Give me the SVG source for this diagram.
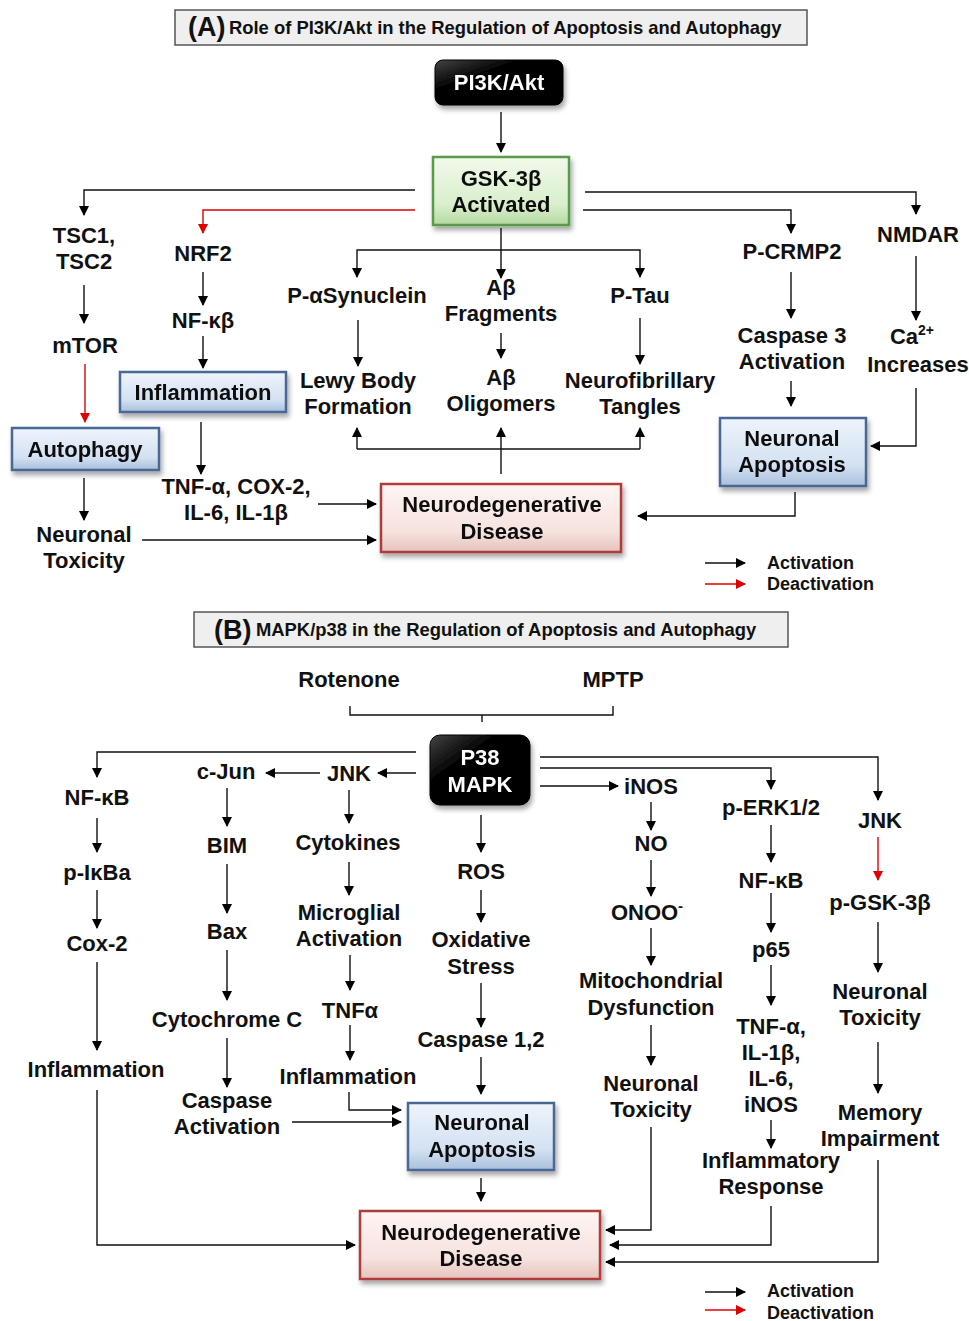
<svg xmlns="http://www.w3.org/2000/svg" width="969" height="1321" viewBox="0 0 969 1321">
<defs>
<marker id="ab" markerWidth="10" markerHeight="10" refX="9" refY="5" orient="auto" markerUnits="userSpaceOnUse"><path d="M0,0 L10,5 L0,10 Z" fill="#000"/></marker>
<marker id="ar" markerWidth="10" markerHeight="10" refX="9" refY="5" orient="auto" markerUnits="userSpaceOnUse"><path d="M0,0 L10,5 L0,10 Z" fill="#e00000"/></marker>
<linearGradient id="gBlue" x1="0" y1="0" x2="0" y2="1"><stop offset="0" stop-color="#eef4fb"/><stop offset="0.7" stop-color="#d3e1f2"/><stop offset="1" stop-color="#a9bfdc"/></linearGradient>
<linearGradient id="gGreen" x1="0" y1="0" x2="0" y2="1"><stop offset="0" stop-color="#f1f9ec"/><stop offset="0.7" stop-color="#d9efcc"/><stop offset="1" stop-color="#b5d9a0"/></linearGradient>
<linearGradient id="gPink" x1="0" y1="0" x2="0" y2="1"><stop offset="0" stop-color="#fdf5f3"/><stop offset="0.7" stop-color="#f6e2de"/><stop offset="1" stop-color="#e5c2bc"/></linearGradient>
<linearGradient id="gBlack" x1="0" y1="0" x2="1" y2="1"><stop offset="0" stop-color="#444"/><stop offset="0.35" stop-color="#000"/><stop offset="1" stop-color="#000"/></linearGradient>
<filter id="sh" x="-10%" y="-10%" width="125%" height="135%"><feDropShadow dx="2" dy="4" stdDeviation="2.5" flood-color="#000" flood-opacity="0.35"/></filter>
</defs>
<style>
text{font-family:"Liberation Sans",Arial,sans-serif;font-weight:bold;fill:#111;text-anchor:middle;font-size:22px}
.w{fill:#fff}
.lg{font-size:18px;text-anchor:start}
.tl{font-size:18.4px;text-anchor:start}
.tb{font-size:27px;text-anchor:start}
.k{fill:none;stroke:#111;stroke-width:1.4}
.ka{fill:none;stroke:#111;stroke-width:1.4;marker-end:url(#ab)}
.ra{fill:none;stroke:#e00000;stroke-width:1.4;marker-end:url(#ar)}
.title{fill:#efefef;stroke:#555;stroke-width:1.5}
.blue{fill:url(#gBlue);stroke:#4a6896;stroke-width:2.5}
.green{fill:url(#gGreen);stroke:#5a9a48;stroke-width:2.5}
.pink{fill:url(#gPink);stroke:#b03a3a;stroke-width:2.5}
.blk{fill:url(#gBlack);stroke:#000}
</style>

<!-- ===== Section A ===== -->
<g id="titleA"><rect class="title" x="175" y="10" width="632" height="35"/><text class="tb" x="188" y="36">(A)</text><text class="tl" x="229" y="34">Role of PI3K/Akt in the Regulation of Apoptosis and Autophagy</text></g>
<g id="pi3k" filter="url(#sh)"><rect class="blk" x="435" y="60" width="128" height="45" rx="8"/><text class="w" x="499" y="90">PI3K/Akt</text></g>
<g id="gsk" filter="url(#sh)"><rect class="green" x="433" y="157" width="136" height="68"/><text x="501" y="186">GSK-3β</text><text x="501" y="212">Activated</text></g>
<g id="tsc"><text x="84" y="243">TSC1,</text><text x="84" y="269">TSC2</text></g>
<g id="mtor"><text x="85" y="353">mTOR</text></g>
<g id="autophagy" filter="url(#sh)"><rect class="blue" x="12" y="428" width="147" height="42"/><text x="85" y="457">Autophagy</text></g>
<g id="ntoxA"><text x="84" y="542">Neuronal</text><text x="84" y="568">Toxicity</text></g>
<g id="nrf2"><text x="203" y="261">NRF2</text></g>
<g id="nfkbA"><text x="203" y="328">NF-κβ</text></g>
<g id="inflA" filter="url(#sh)"><rect class="blue" x="120" y="372" width="166" height="40"/><text x="203" y="400">Inflammation</text></g>
<g id="tnfA"><text x="236" y="494">TNF-α, COX-2,</text><text x="236" y="520">IL-6, IL-1β</text></g>
<g id="syn"><text x="357" y="303">P-αSynuclein</text></g>
<g id="lewy"><text x="358" y="388">Lewy Body</text><text x="358" y="414">Formation</text></g>
<g id="abf"><text x="501" y="295">Aβ</text><text x="501" y="321">Fragments</text></g>
<g id="abo"><text x="501" y="385">Aβ</text><text x="501" y="411">Oligomers</text></g>
<g id="ptau"><text x="640" y="303">P-Tau</text></g>
<g id="nft"><text x="640" y="388">Neurofibrillary</text><text x="640" y="414">Tangles</text></g>
<g id="crmp"><text x="792" y="259">P-CRMP2</text></g>
<g id="casp3"><text x="792" y="343">Caspase 3</text><text x="792" y="369">Activation</text></g>
<g id="napA" filter="url(#sh)"><rect class="blue" x="720" y="418" width="146" height="68"/><text x="792" y="446">Neuronal</text><text x="792" y="472">Apoptosis</text></g>
<g id="nmdar"><text x="918" y="242">NMDAR</text></g>
<g id="ca"><text x="912" y="344">Ca<tspan font-size="14" dy="-9">2+</tspan></text><text x="918" y="372">Increases</text></g>
<g id="ndA" filter="url(#sh)"><rect class="pink" x="381" y="484" width="240" height="68"/><text x="502" y="512">Neurodegenerative</text><text x="502" y="539">Disease</text></g>
<g id="legendA"><line class="ka" x1="705" y1="563" x2="745" y2="563"/><text class="lg" x="767" y="569">Activation</text><line class="ra" x1="705" y1="584" x2="745" y2="584"/><text class="lg" x="767" y="590">Deactivation</text></g>

<g id="connectorsA">
<line class="ka" x1="501" y1="112" x2="501" y2="152"/>
<polyline class="ka" points="415,190 84,190 84,215"/>
<polyline class="ra" points="415,210 203,210 203,233"/>
<line class="ka" x1="84" y1="285" x2="84" y2="323"/>
<line class="ra" x1="85" y1="364" x2="85" y2="422"/>
<line class="ka" x1="84" y1="478" x2="84" y2="520"/>
<line class="ka" x1="203" y1="272" x2="203" y2="305"/>
<line class="ka" x1="203" y1="336" x2="203" y2="368"/>
<line class="ka" x1="201" y1="422" x2="201" y2="474"/>
<line class="ka" x1="318" y1="504" x2="376" y2="504"/>
<line class="ka" x1="142" y1="540" x2="376" y2="540"/>
<line class="ka" x1="501" y1="228" x2="501" y2="278"/>
<polyline class="ka" points="501,250 357,250 357,277"/>
<polyline class="ka" points="501,250 640,250 640,277"/>
<line class="ka" x1="358" y1="320" x2="358" y2="366"/>
<line class="ka" x1="501" y1="333" x2="501" y2="358"/>
<line class="ka" x1="640" y1="318" x2="640" y2="364"/>
<line class="ka" x1="501" y1="474" x2="501" y2="428"/>
<polyline class="k" points="357,449 640,449"/>
<line class="ka" x1="357" y1="449" x2="357" y2="428"/>
<line class="ka" x1="640" y1="449" x2="640" y2="428"/>
<polyline class="ka" points="585,192 916,192 916,214"/>
<polyline class="ka" points="583,210 791,210 791,233"/>
<line class="ka" x1="791" y1="272" x2="791" y2="318"/>
<line class="ka" x1="791" y1="381" x2="791" y2="406"/>
<line class="ka" x1="916" y1="256" x2="916" y2="320"/>
<polyline class="ka" points="916,388 916,446 871,446"/>
<polyline class="ka" points="795,492 795,516 638,516"/>
</g>

<!-- ===== Section B ===== -->
<g id="titleB"><rect class="title" x="194" y="612" width="594" height="35"/><text class="tb" x="214" y="639">(B)</text><text class="tl" x="256" y="636">MAPK/p38 in the Regulation of Apoptosis and Autophagy</text></g>
<g id="rot"><text x="349" y="687">Rotenone</text></g>
<g id="mptp"><text x="613" y="687">MPTP</text></g>
<g id="brace"><path class="k" d="M350,706 L350,715 L613,715 L613,706 M482,715 L482,722"/></g>
<g id="p38" filter="url(#sh)"><rect class="blk" x="430" y="735" width="100" height="70" rx="10"/><text class="w" x="480" y="765">P38</text><text class="w" x="480" y="792">MAPK</text></g>
<g id="nfkbB1"><text x="97" y="805">NF-κB</text></g>
<g id="pikba"><text x="97" y="880">p-IκBa</text></g>
<g id="cox2"><text x="97" y="951">Cox-2</text></g>
<g id="inflB1"><text x="96" y="1077">Inflammation</text></g>
<g id="cjun"><text x="226" y="779">c-Jun</text></g>
<g id="bim"><text x="227" y="853">BIM</text></g>
<g id="bax"><text x="227" y="939">Bax</text></g>
<g id="cytc"><text x="227" y="1027">Cytochrome C</text></g>
<g id="caspact"><text x="227" y="1108">Caspase</text><text x="227" y="1134">Activation</text></g>
<g id="jnk1"><text x="349" y="781">JNK</text></g>
<g id="cyto"><text x="348" y="850">Cytokines</text></g>
<g id="micro"><text x="349" y="920">Microglial</text><text x="349" y="946">Activation</text></g>
<g id="tnfa1"><text x="350" y="1018">TNFα</text></g>
<g id="inflB2"><text x="348" y="1084">Inflammation</text></g>
<g id="ros"><text x="481" y="879">ROS</text></g>
<g id="ox"><text x="481" y="947">Oxidative</text><text x="481" y="974">Stress</text></g>
<g id="casp12"><text x="481" y="1047">Caspase 1,2</text></g>
<g id="napB" filter="url(#sh)"><rect class="blue" x="408" y="1103" width="146" height="67"/><text x="482" y="1130">Neuronal</text><text x="482" y="1157">Apoptosis</text></g>
<g id="ndB" filter="url(#sh)"><rect class="pink" x="360" y="1211" width="240" height="68"/><text x="481" y="1240">Neurodegenerative</text><text x="481" y="1266">Disease</text></g>
<g id="inos"><text x="651" y="794">iNOS</text></g>
<g id="no"><text x="651" y="851">NO</text></g>
<g id="onoo"><text x="647" y="920">ONOO<tspan font-size="15" dy="-9">-</tspan></text></g>
<g id="mito"><text x="651" y="988">Mitochondrial</text><text x="651" y="1015">Dysfunction</text></g>
<g id="ntoxB1"><text x="651" y="1091">Neuronal</text><text x="651" y="1117">Toxicity</text></g>
<g id="perk"><text x="771" y="815">p-ERK1/2</text></g>
<g id="nfkbB2"><text x="771" y="888">NF-κB</text></g>
<g id="p65"><text x="771" y="957">p65</text></g>
<g id="cytB"><text x="771" y="1034">TNF-α,</text><text x="771" y="1060">IL-1β,</text><text x="771" y="1086">IL-6,</text><text x="771" y="1112">iNOS</text></g>
<g id="infresp"><text x="771" y="1168">Inflammatory</text><text x="771" y="1194">Response</text></g>
<g id="jnk2"><text x="880" y="828">JNK</text></g>
<g id="pgsk"><text x="880" y="910">p-GSK-3β</text></g>
<g id="ntoxB2"><text x="880" y="999">Neuronal</text><text x="880" y="1025">Toxicity</text></g>
<g id="mem"><text x="880" y="1120">Memory</text><text x="880" y="1146">Impairment</text></g>
<g id="legendB"><line class="ka" x1="705" y1="1292" x2="745" y2="1292"/><text class="lg" x="767" y="1297">Activation</text><line class="ra" x1="705" y1="1310" x2="745" y2="1310"/><text class="lg" x="767" y="1319">Deactivation</text></g>

<g id="connectorsB">
<polyline class="ka" points="416,752 97,752 97,777"/>
<line class="ka" x1="97" y1="818" x2="97" y2="852"/>
<line class="ka" x1="97" y1="890" x2="97" y2="928"/>
<line class="ka" x1="97" y1="962" x2="97" y2="1050"/>
<polyline class="ka" points="97,1090 97,1245 355,1245"/>
<line class="ka" x1="416" y1="773" x2="378" y2="773"/>
<line class="ka" x1="320" y1="773" x2="266" y2="773"/>
<line class="ka" x1="227" y1="788" x2="227" y2="826"/>
<line class="ka" x1="227" y1="864" x2="227" y2="913"/>
<line class="ka" x1="227" y1="950" x2="227" y2="1000"/>
<line class="ka" x1="227" y1="1038" x2="227" y2="1087"/>
<line class="ka" x1="292" y1="1122" x2="401" y2="1122"/>
<line class="ka" x1="349" y1="790" x2="349" y2="823"/>
<line class="ka" x1="349" y1="862" x2="349" y2="895"/>
<line class="ka" x1="350" y1="955" x2="350" y2="990"/>
<line class="ka" x1="350" y1="1025" x2="350" y2="1060"/>
<polyline class="ka" points="349,1092 349,1110 401,1110"/>
<line class="ka" x1="481" y1="815" x2="481" y2="852"/>
<line class="ka" x1="481" y1="890" x2="481" y2="922"/>
<line class="ka" x1="481" y1="983" x2="481" y2="1027"/>
<line class="ka" x1="481" y1="1057" x2="481" y2="1094"/>
<line class="ka" x1="481" y1="1178" x2="481" y2="1201"/>
<line class="ka" x1="540" y1="786" x2="618" y2="786"/>
<line class="ka" x1="651" y1="802" x2="651" y2="830"/>
<line class="ka" x1="651" y1="860" x2="651" y2="896"/>
<line class="ka" x1="651" y1="928" x2="651" y2="965"/>
<line class="ka" x1="651" y1="1025" x2="651" y2="1065"/>
<polyline class="ka" points="651,1127 651,1230 606,1230"/>
<polyline class="ka" points="540,768 771,768 771,789"/>
<line class="ka" x1="771" y1="825" x2="771" y2="862"/>
<line class="ka" x1="771" y1="893" x2="771" y2="932"/>
<line class="ka" x1="771" y1="965" x2="771" y2="1005"/>
<line class="ka" x1="771" y1="1120" x2="771" y2="1148"/>
<polyline class="ka" points="771,1206 771,1245 610,1245"/>
<polyline class="ka" points="540,757 878,757 878,800"/>
<line class="ra" x1="878" y1="837" x2="878" y2="880"/>
<line class="ka" x1="878" y1="922" x2="878" y2="972"/>
<line class="ka" x1="878" y1="1042" x2="878" y2="1093"/>
<polyline class="ka" points="878,1160 878,1262 606,1262"/>
</g>
</svg>
